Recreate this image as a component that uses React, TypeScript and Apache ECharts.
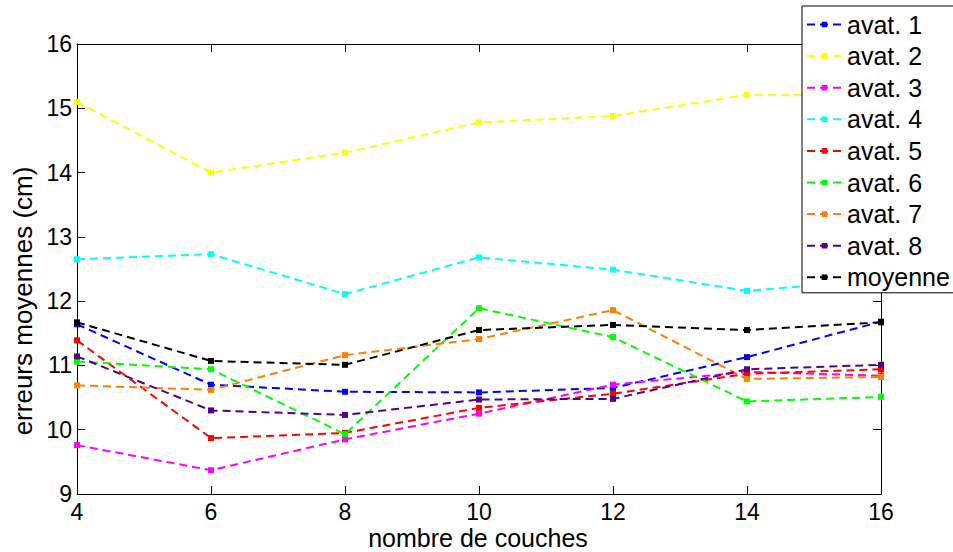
import React, { useEffect, useRef } from "react";
import * as echarts from "echarts";

const couches = [4, 6, 8, 10, 12, 14, 16];
const seriesNames = ["avat. 1", "avat. 2", "avat. 3", "avat. 4", "avat. 5", "avat. 6", "avat. 7", "avat. 8", "moyenne"];
const avat1 = [11.64, 10.70, 10.59, 10.58, 10.65, 11.13, 11.68];
const avat2 = [15.10, 14.00, 14.31, 14.78, 14.88, 15.21, 15.20];
const avat3 = [9.76, 9.37, 9.85, 10.25, 10.70, 10.90, 10.84];
const avat4 = [12.65, 12.73, 12.11, 12.68, 12.49, 12.16, 12.33];
const avat5 = [11.39, 9.87, 9.95, 10.34, 10.56, 10.87, 10.94];
const avat6 = [11.06, 10.94, 9.93, 11.89, 11.44, 10.44, 10.51];
const avat7 = [10.69, 10.62, 11.16, 11.41, 11.86, 10.79, 10.82];
const avat8 = [11.14, 10.30, 10.23, 10.47, 10.48, 10.94, 11.01];
const moyenne = [11.67, 11.07, 11.01, 11.55, 11.63, 11.55, 11.67];
const colors = ["#0000ff", "#ffff00", "#ff00ff", "#00ffff", "#ff0000", "#00ff00", "#ff8000", "#550088", "#000000"];
const allValues = [avat1, avat2, avat3, avat4, avat5, avat6, avat7, avat8, moyenne];

const FONT = "'Liberation Sans', Arial, Helvetica, sans-serif";

export default function App() {
  const ref = useRef<HTMLDivElement>(null);
  useEffect(() => {
    if (!ref.current) return;
    const chart = echarts.init(ref.current, null, { renderer: "svg" });
    const axisLine = { show: true, lineStyle: { color: "#000", width: 1 } };
    const tick = { show: true, inside: true, length: 8, lineStyle: { color: "#000", width: 1 } };
    const option: any = {
      animation: false,
      backgroundColor: "#fff",
      grid: { left: 77, right: 72, top: 44, bottom: 58, containLabel: false },
      xAxis: [
        {
          type: "value", min: 4, max: 16, interval: 2, position: "bottom",
          axisLine, axisTick: tick, splitLine: { show: false },
          axisLabel: { color: "#000", fontSize: 23, fontFamily: FONT, margin: 6 },
        },
        {
          type: "value", min: 4, max: 16, interval: 2, position: "top",
          axisLine, axisTick: tick, splitLine: { show: false }, axisLabel: { show: false },
        },
      ],
      yAxis: [
        {
          type: "value", min: 9, max: 16, interval: 1, position: "left",
          axisLine, axisTick: tick, splitLine: { show: false },
          axisLabel: { color: "#000", fontSize: 23, fontFamily: FONT, margin: 5 },
        },
        {
          type: "value", min: 9, max: 16, interval: 1, position: "right",
          axisLine, axisTick: tick, splitLine: { show: false }, axisLabel: { show: false },
        },
      ],
      legend: {
        orient: "vertical",
        left: 802,
        top: 6,
        backgroundColor: "#fff",
        borderColor: "#000",
        borderWidth: 1,
        borderRadius: 0,
        padding: [6, 6, 3, 4],
        itemWidth: 35,
        itemHeight: 7,
        itemGap: 6.6,
        textStyle: { color: "#000", fontSize: 25, fontFamily: FONT, lineHeight: 25 },
        data: seriesNames,
      },
      graphic: [
        {
          type: "text", x: 478, y: 538,
          style: { text: "nombre de couches", fill: "#000", font: `25px ${FONT}`, textAlign: "center", textVerticalAlign: "middle" },
        },
        {
          type: "text", x: 23, y: 301, rotation: Math.PI / 2,
          style: { text: "erreurs moyennes (cm)", fill: "#000", font: `26px ${FONT}`, textAlign: "center", textVerticalAlign: "middle" },
        },
      ],
      series: seriesNames.map((name, i) => ({
        name,
        type: "line",
        data: couches.map((c, j) => [c, allValues[i][j]]),
        symbol: "rect",
        symbolSize: 6,
        color: colors[i],
        itemStyle: { color: colors[i] },
        lineStyle: { color: colors[i], width: 2, type: [8, 5] },
        emphasis: { disabled: true },
        z: 2,
      })),
    };
    chart.setOption(option);
    return () => chart.dispose();
  }, []);
  return <div ref={ref} style={{ position: "fixed", left: 0, top: 0, width: 953, height: 552 }} />;
}
